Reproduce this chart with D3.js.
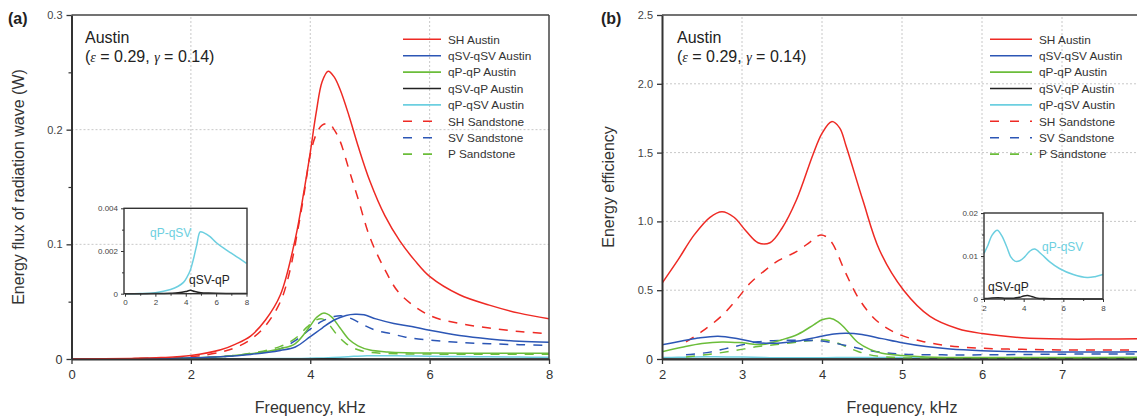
<!DOCTYPE html>
<html><head><meta charset="utf-8">
<script src="https://cdn.jsdelivr.net/npm/d3@7"></script>
<style>
body{margin:0;background:#fff;}
svg{display:block;font-family:"Liberation Sans",Arial,sans-serif;}
</style>
</head><body>
<svg id="c" width="1137" height="419"></svg>
<script>
// ---------------- DATA ----------------
const seriesNames = ["SH Austin","qSV-qSV Austin","qP-qP Austin","qSV-qP Austin","qP-qSV Austin","SH Sandstone","SV Sandstone","P Sandstone"];

// Panel (a): energy flux (W) vs frequency (kHz)
const a_SH_f  = [0,1,1.5,2,2.5,2.75,3,3.25,3.5,3.75,3.9,4.0,4.1,4.2,4.3,4.4,4.5,4.65,4.8,5.0,5.25,5.5,5.75,6.0,6.5,7.0,7.5,8.0];
const a_SH_v  = [0,0.0005,0.0012,0.003,0.008,0.013,0.02,0.034,0.056,0.105,0.148,0.18,0.215,0.242,0.251,0.246,0.235,0.212,0.186,0.155,0.125,0.103,0.086,0.072,0.056,0.047,0.040,0.035];
const a_SV_f  = [0,1,2,2.5,3.0,3.5,3.75,4.0,4.2,4.4,4.6,4.75,4.9,5.1,5.4,5.7,6.0,6.5,7.0,7.5,8.0];
const a_SV_v  = [0,0.0002,0.001,0.002,0.004,0.0075,0.0105,0.0195,0.027,0.034,0.038,0.039,0.0385,0.035,0.031,0.0283,0.025,0.0205,0.0175,0.0155,0.0145];
const a_P_f   = [0,1,2,2.5,3.0,3.5,3.75,4.0,4.1,4.22,4.35,4.5,4.65,4.8,5.0,5.3,5.6,6.0,7.0,8.0];
const a_P_v   = [0,0.0002,0.001,0.002,0.0045,0.009,0.0135,0.029,0.036,0.040,0.037,0.027,0.017,0.0115,0.0078,0.0062,0.0055,0.0052,0.005,0.005];
const a_SVP_f = [0,2,3,3.5,4.0,4.3,4.6,5.0,5.5,6,7,8];
const a_SVP_v = [0,0.000005,0.00002,0.00004,0.0001,0.00016,0.0001,0.00005,0.00003,0.00002,0.00001,0.00001];
const a_PSV_f = [0,1,2,3,3.5,3.85,4.1,4.3,4.5,4.73,4.95,5.2,5.6,6.0,6.5,7.0,7.5,8.0];
const a_PSV_v = [0,0.00001,0.00005,0.0002,0.00035,0.00053,0.0008,0.0011,0.0016,0.0023,0.0029,0.00285,0.00267,0.0024,0.00213,0.0019,0.00167,0.00142];
const a_SHs_f = [0,1,2,2.5,2.75,3.0,3.25,3.5,3.65,3.8,3.9,4.0,4.1,4.2,4.32,4.4,4.5,4.65,4.8,5.0,5.25,5.5,6.0,6.5,7.0,7.5,8.0];
const a_SHs_v = [0,0.0003,0.002,0.006,0.01,0.017,0.029,0.05,0.075,0.115,0.145,0.178,0.196,0.204,0.205,0.2,0.19,0.165,0.14,0.106,0.078,0.057,0.038,0.031,0.027,0.024,0.022];
const a_SVs_f = [0,1,2,2.5,3.0,3.5,3.75,4.0,4.2,4.4,4.55,4.7,4.9,5.1,5.35,5.6,6.0,6.5,7.0,7.5,8.0];
const a_SVs_v = [0,0.0002,0.001,0.002,0.0045,0.009,0.016,0.026,0.033,0.037,0.0375,0.035,0.0295,0.025,0.0222,0.019,0.0165,0.0145,0.0133,0.0125,0.012];
const a_Ps_f  = [0,1,2,2.5,3.0,3.5,3.75,3.95,4.1,4.2,4.3,4.45,4.6,4.8,5.0,5.3,6.0,7.0,8.0];
const a_Ps_v  = [0,0.0002,0.001,0.002,0.005,0.011,0.018,0.028,0.034,0.035,0.031,0.021,0.0135,0.008,0.0058,0.0048,0.0043,0.0042,0.0042];

// Panel (b): energy efficiency vs frequency (kHz)
const b_SH_f  = [2,2.2,2.4,2.6,2.75,2.9,3.05,3.2,3.35,3.5,3.68,3.89,4.0,4.12,4.22,4.3,4.51,4.72,5.02,5.35,5.7,6.0,6.5,7.0,7.5,8.0];
const b_SH_v  = [0.55,0.72,0.9,1.03,1.07,1.03,0.93,0.845,0.845,0.95,1.155,1.49,1.64,1.725,1.68,1.55,1.155,0.79,0.50,0.31,0.22,0.185,0.155,0.145,0.145,0.148];
const b_SV_f  = [2,2.2,2.45,2.7,2.95,3.2,3.45,3.7,3.95,4.15,4.3,4.5,4.75,5.0,5.3,5.6,6.0,6.5,7.0,7.5,8.0];
const b_SV_v  = [0.103,0.125,0.152,0.166,0.148,0.118,0.115,0.13,0.16,0.182,0.187,0.178,0.148,0.118,0.09,0.072,0.06,0.053,0.05,0.051,0.053];
const b_P_f   = [2,2.25,2.5,2.75,3.0,3.25,3.5,3.7,3.9,4.0,4.1,4.2,4.3,4.45,4.6,4.75,5.0,5.3,6.0,7.0,8.0];
const b_P_v   = [0.053,0.085,0.112,0.124,0.118,0.105,0.14,0.18,0.25,0.285,0.296,0.27,0.215,0.12,0.07,0.042,0.025,0.015,0.01,0.011,0.013];
const b_SVP_f = [2,2.3,2.7,3.1,3.5,3.8,4.0,4.2,4.4,4.7,5.0,5.5,6,8];
const b_SVP_v = [0.0001,0.0002,0.0003,0.0002,0.0002,0.0004,0.0007,0.0008,0.0006,0.0002,0.0001,0.00005,0.00003,0.00002];
const b_PSV_f = [2,2.2,2.4,2.67,2.9,3.14,3.35,3.56,3.8,4.05,4.3,4.55,4.9,5.3,5.8,6.5,7.2,7.6,8.0];
const b_PSV_v = [0.0106,0.0125,0.0148,0.016,0.0147,0.0122,0.0098,0.0088,0.0089,0.0098,0.0111,0.0116,0.0104,0.0087,0.0071,0.0057,0.005,0.0052,0.0057];
const b_SHs_f = [2.3,2.5,2.74,2.93,3.1,3.3,3.47,3.68,3.85,3.97,4.05,4.13,4.3,4.47,4.68,4.93,5.27,5.6,6.0,6.5,7.0,7.5,8.0];
const b_SHs_v = [0.125,0.2,0.31,0.43,0.55,0.65,0.72,0.78,0.85,0.90,0.89,0.84,0.62,0.43,0.28,0.187,0.126,0.095,0.078,0.07,0.066,0.065,0.066];
const b_SVs_f = [2.3,2.6,2.9,3.2,3.5,3.8,4.0,4.2,4.4,4.6,4.8,5.0,5.5,6.0,7.0,8.0];
const b_SVs_v = [0.03,0.05,0.09,0.125,0.135,0.135,0.13,0.11,0.085,0.06,0.045,0.035,0.03,0.03,0.035,0.037];
const b_Ps_f  = [2.3,2.6,2.9,3.2,3.5,3.8,4.0,4.15,4.3,4.45,4.6,4.8,5.0,5.5,6.0,7.0,8.0];
const b_Ps_v  = [0.015,0.035,0.06,0.09,0.11,0.13,0.14,0.125,0.09,0.055,0.03,0.015,0.008,0.005,0.004,0.004,0.004];

// Ticks
const aXTicks = [0,2,4,6,8];
const aYTicks = [0,0.1,0.2,0.3];
const aYMinor = [0.05,0.15,0.25];
const bXTicks = [2,3,4,5,6,7,8];
const bXLabels = [2,3,4,5,6,7];
const bYTicks = [0,0.5,1.0,1.5,2.0,2.5];
const insetAXTicks = [0,2,4,6,8];
const insetAYTicks = [0,0.002,0.004];
const insetBXTicks = [2,4,6,8];
const insetBYTicks = [0,0.01,0.02];

// --------------- DRAWING ---------------
const svg = d3.select("#c");
const C = {red:"#ee2a24", blue:"#2c56b5", green:"#6bbd3a", black:"#222222", cyan:"#6ccfe0"};
const styleOf = {
  "SH Austin":{c:C.red,d:null},
  "qSV-qSV Austin":{c:C.blue,d:null},
  "qP-qP Austin":{c:C.green,d:null},
  "qSV-qP Austin":{c:C.black,d:null},
  "qP-qSV Austin":{c:C.cyan,d:null},
  "SH Sandstone":{c:C.red,d:"9,8"},
  "SV Sandstone":{c:C.blue,d:"9,8"},
  "P Sandstone":{c:C.green,d:"9,8"}
};
const zip = (f,v)=>f.map((x,i)=>[x,v[i]]);

const panels = [
  {id:"a", label:"(a)", labelX:8, xDom:[0,8], xR:[71.5,549], yDom:[0,0.3], yR:[359,15],
   xTicks:aXTicks, xLabels:aXTicks, yTicks:aYTicks, yMinor:aYMinor, yFmt:d=>d===0?"0":d3.format(".1f")(d),
   gridX:[2,4,6], gridY:[0.1,0.2], ytitle:"Energy flux of radiation wave (W)", ytX:24, annX:85, legX:403, legW:38,
   data:{"SH Austin":zip(a_SH_f,a_SH_v),"qSV-qSV Austin":zip(a_SV_f,a_SV_v),"qP-qP Austin":zip(a_P_f,a_P_v),
         "qSV-qP Austin":zip(a_SVP_f,a_SVP_v),"qP-qSV Austin":zip(a_PSV_f,a_PSV_v),
         "SH Sandstone":zip(a_SHs_f,a_SHs_v),"SV Sandstone":zip(a_SVs_f,a_SVs_v),"P Sandstone":zip(a_Ps_f,a_Ps_v)},
   inset:{xDom:[0,8], xR:[125,246.5], yDom:[0,0.004], yR:[293.7,208.3], xTicks:insetAXTicks, xMinor:[1,3,5,7], yTicks:insetAYTicks,
          yMinor:[0.001,0.003], yFmt:d=>d===0?"0":d3.format(".3f")(d), box:[124,208.3,247,293.7],
          l1:{t:"qP-qSV",x:150,y:237}, l2:{t:"qSV-qP",x:189,y:284}}},
  {id:"b", label:"(b)", labelX:601, xDom:[2,8], xR:[662,1142], yDom:[0,2.5], yR:[359,15],
   xTicks:bXTicks, xLabels:bXLabels, yTicks:bYTicks, yMinor:[], yFmt:d=>d===0?"0":d3.format(".1f")(d),
   gridX:[3,4,5,6,7], gridY:[0.5,1.0,1.5,2.0], ytitle:"Energy efficiency", ytX:614, annX:677, legX:990, legW:42,
   data:{"SH Austin":zip(b_SH_f,b_SH_v),"qSV-qSV Austin":zip(b_SV_f,b_SV_v),"qP-qP Austin":zip(b_P_f,b_P_v),
         "qSV-qP Austin":zip(b_SVP_f,b_SVP_v),"qP-qSV Austin":zip(b_PSV_f,b_PSV_v),
         "SH Sandstone":zip(b_SHs_f,b_SHs_v),"SV Sandstone":zip(b_SVs_f,b_SVs_v),"P Sandstone":zip(b_Ps_f,b_Ps_v)},
   inset:{xDom:[2,8], xR:[984,1103], yDom:[0,0.02], yR:[299,213], xTicks:insetBXTicks, xMinor:[3,5,7], yTicks:insetBYTicks,
          yMinor:[0.005,0.015], yFmt:d=>d===0?"0":d3.format(".2f")(d), box:[984,213,1103,299],
          l1:{t:"qP-qSV",x:1042,y:251}, l2:{t:"qSV-qP",x:988,y:291}}}
];

const defs = svg.append("defs");
const curveType = d3.curveCatmullRom.alpha(0.5);

panels.forEach(p=>{
  const x = d3.scaleLinear().domain(p.xDom).range(p.xR);
  const y = d3.scaleLinear().domain(p.yDom).range(p.yR);
  const g = svg.append("g");
  const [x0,x1] = p.xR, [yb,yt] = p.yR;

  // grid
  g.selectAll(".gx").data(p.gridX).enter().append("line")
    .attr("x1",d=>x(d)).attr("x2",d=>x(d)).attr("y1",yb).attr("y2",yt)
    .attr("stroke","#c8c8c8").attr("stroke-width",1).attr("stroke-dasharray","2,2");
  g.selectAll(".gy").data(p.gridY).enter().append("line")
    .attr("x1",x0).attr("x2",x1).attr("y1",d=>y(d)).attr("y2",d=>y(d))
    .attr("stroke","#c8c8c8").attr("stroke-width",1).attr("stroke-dasharray","2,2");

  // clip
  defs.append("clipPath").attr("id","clip"+p.id).append("rect")
    .attr("x",x0).attr("y",yt).attr("width",x1-x0).attr("height",yb-yt);

  // curves
  const line = d3.line().x(d=>x(d[0])).y(d=>y(d[1])).curve(curveType);
  const cg = g.append("g").attr("clip-path","url(#clip"+p.id+")");
  const order = ["qP-qSV Austin","qSV-qP Austin","P Sandstone","SV Sandstone","SH Sandstone","qP-qP Austin","qSV-qSV Austin","SH Austin"];
  order.forEach(n=>{
    const s = styleOf[n];
    cg.append("path").datum(p.data[n]).attr("d",line).attr("fill","none")
      .attr("stroke",s.c).attr("stroke-width",1.5).attr("stroke-dasharray",s.d);
  });

  // frame (top & right)
  g.append("line").attr("x1",x0).attr("x2",x1).attr("y1",yt).attr("y2",yt).attr("stroke","#444").attr("stroke-width",1.5);
  g.append("line").attr("x1",x1).attr("x2",x1).attr("y1",yt).attr("y2",yb).attr("stroke","#444").attr("stroke-width",1.5);

  // axes
  const ax = g.append("g").attr("transform",`translate(0,${yb})`)
    .call(d3.axisBottom(x).tickValues(p.xTicks).tickSize(5).tickSizeOuter(0).tickPadding(6)
      .tickFormat(d=>p.xLabels.includes(d)?d3.format("d")(d):""));
  ax.select(".domain").attr("stroke","#333").attr("stroke-width",2);
  ax.selectAll(".tick line").attr("stroke","#333").attr("stroke-width",1.3);
  ax.selectAll("text").attr("font-size",13).attr("fill","#333").attr("font-family","Liberation Sans, Arial, sans-serif");

  const ay = g.append("g").attr("transform",`translate(${x0},0)`)
    .call(d3.axisLeft(y).tickValues(p.yTicks).tickSize(5).tickSizeOuter(0).tickPadding(4).tickFormat(p.yFmt));
  ay.select(".domain").attr("stroke","#333").attr("stroke-width",2);
  ay.selectAll(".tick line").attr("stroke","#333").attr("stroke-width",1.3);
  ay.selectAll("text").attr("font-size",11).attr("fill","#444").attr("font-family","Liberation Sans, Arial, sans-serif");
  ay.selectAll(".tick").filter(d=>d===0).select("text").attr("font-size",12.5).attr("fill","#333");
  if (p.yMinor.length){
    const am = g.append("g").attr("transform",`translate(${x0},0)`)
      .call(d3.axisLeft(y).tickValues(p.yMinor).tickSize(3).tickSizeOuter(0).tickFormat(""));
    am.select(".domain").remove();
    am.selectAll(".tick line").attr("stroke","#333").attr("stroke-width",1.2);
  }

  // axis titles
  g.append("text").attr("x",(x0+Math.min(x1,1142))/2).attr("y",413).attr("text-anchor","middle")
    .attr("font-size",16).attr("fill","#333").text("Frequency, kHz");
  g.append("text").attr("transform",`translate(${p.ytX},${(yb+yt)/2}) rotate(-90)`).attr("text-anchor","middle")
    .attr("font-size",16).attr("fill","#333").text(p.ytitle);

  // panel label
  g.append("text").attr("x",p.labelX).attr("y",24).attr("font-size",16).attr("font-weight","bold").attr("fill","#222").text(p.label);

  // annotation
  g.append("text").attr("x",p.annX).attr("y",43).attr("font-size",16).attr("fill","#222").text("Austin");
  const t2 = g.append("text").attr("x",p.annX).attr("y",62).attr("font-size",16).attr("fill","#222");
  t2.append("tspan").text("(");
  t2.append("tspan").attr("font-family","Liberation Serif, serif").attr("font-style","italic").attr("font-size",14).text("ε");
  t2.append("tspan").text(" = 0.29, ");
  t2.append("tspan").attr("font-family","Liberation Serif, serif").attr("font-style","italic").attr("font-size",14).text("γ");
  t2.append("tspan").text(" = 0.14)");

  // legend
  const lg = g.append("g");
  seriesNames.forEach((n,i)=>{
    const yy = 39.3 + i*16.4;
    const s = styleOf[n];
    lg.append("line").attr("x1",p.legX).attr("x2",p.legX+p.legW).attr("y1",yy).attr("y2",yy)
      .attr("stroke",s.c).attr("stroke-width",1.6).attr("stroke-dasharray",s.d?"9,11":null);
    lg.append("text").attr("x",p.legX+p.legW+7).attr("y",yy).attr("dy","0.36em")
      .attr("font-size",11.8).attr("fill","#333").text(n);
  });

  // inset
  const I = p.inset;
  const ix = d3.scaleLinear().domain(I.xDom).range(I.xR);
  const iy = d3.scaleLinear().domain(I.yDom).range(I.yR);
  const ig = svg.append("g");
  const iline = d3.line().x(d=>ix(d[0])).y(d=>iy(d[1])).curve(curveType);
  ig.append("path").datum(p.data["qP-qSV Austin"]).attr("d",iline).attr("fill","none").attr("stroke",C.cyan).attr("stroke-width",1.5);
  ig.append("path").datum(p.data["qSV-qP Austin"]).attr("d",iline).attr("fill","none").attr("stroke",C.black).attr("stroke-width",1.5);
  ig.append("rect").attr("x",I.box[0]).attr("y",I.box[1]).attr("width",I.box[2]-I.box[0]).attr("height",I.box[3]-I.box[1])
    .attr("fill","none").attr("stroke","#333").attr("stroke-width",1.4);
  const iax = ig.append("g").attr("transform",`translate(0,${I.box[3]})`)
    .call(d3.axisBottom(ix).tickValues(I.xTicks).tickSize(3).tickSizeOuter(0).tickPadding(3).tickFormat(d3.format("d")));
  iax.select(".domain").remove();
  iax.selectAll("text").attr("font-size",8).attr("fill","#444");
  iax.selectAll(".tick line").attr("stroke","#333");
  const iaxm = ig.append("g").attr("transform",`translate(0,${I.box[3]})`)
    .call(d3.axisBottom(ix).tickValues(I.xMinor).tickSize(2).tickSizeOuter(0).tickFormat(""));
  iaxm.select(".domain").remove(); iaxm.selectAll(".tick line").attr("stroke","#333");
  const iay = ig.append("g").attr("transform",`translate(${I.box[0]},0)`)
    .call(d3.axisLeft(iy).tickValues(I.yTicks).tickSize(3).tickSizeOuter(0).tickPadding(3).tickFormat(I.yFmt));
  iay.select(".domain").remove();
  iay.selectAll("text").attr("font-size",8).attr("fill","#444");
  iay.selectAll(".tick line").attr("stroke","#333");
  const iaym = ig.append("g").attr("transform",`translate(${I.box[0]},0)`)
    .call(d3.axisLeft(iy).tickValues(I.yMinor).tickSize(2).tickSizeOuter(0).tickFormat(""));
  iaym.select(".domain").remove(); iaym.selectAll(".tick line").attr("stroke","#333");
  ig.append("text").attr("x",I.l1.x).attr("y",I.l1.y).attr("font-size",12).attr("fill",C.cyan).text(I.l1.t);
  ig.append("text").attr("x",I.l2.x).attr("y",I.l2.y).attr("font-size",12).attr("fill","#222").text(I.l2.t);
});
</script>
</body></html>
